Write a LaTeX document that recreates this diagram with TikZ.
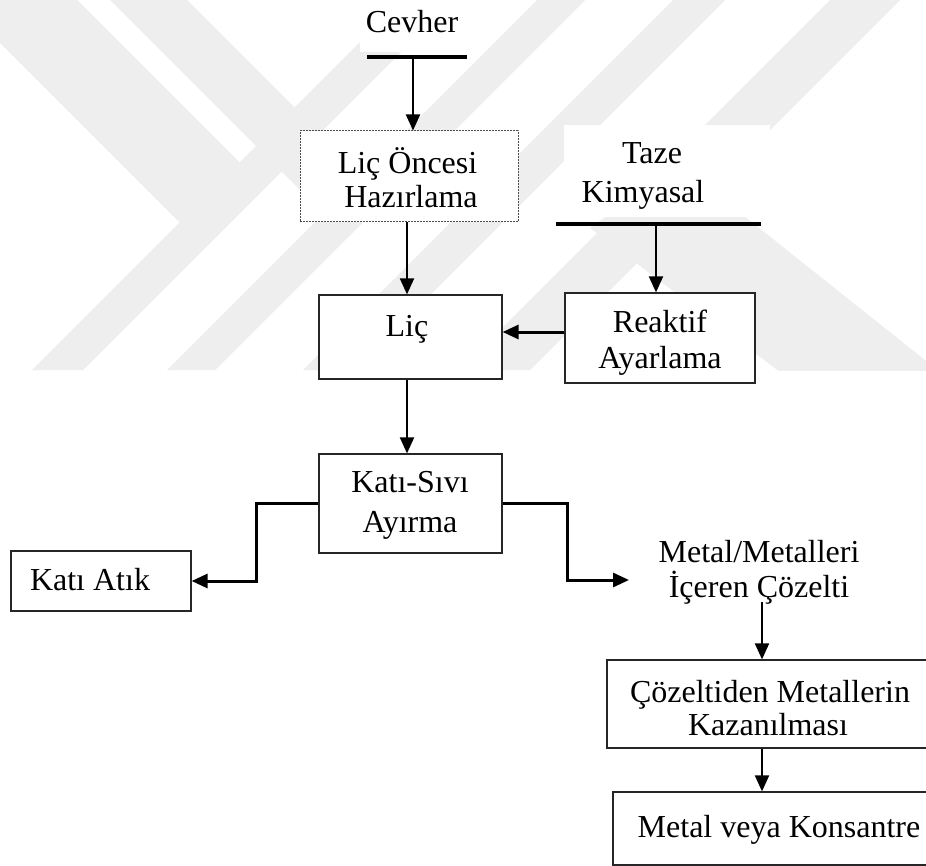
\documentclass[tikz,border=0pt]{standalone}
\usepackage{fontspec}
\setmainfont{Liberation Serif}
\usetikzlibrary{arrows.meta}
\definecolor{wm}{gray}{0.935}
\begin{document}
\begin{tikzpicture}[x=0.5pt,y=-0.5pt,
  font=\fontsize{16}{17.5}\selectfont,
  box/.style={draw=black!85, line width=0.6pt, fill=white, inner sep=0pt},
  dotbox/.style={box, draw=black!70, line width=0.5pt, dash pattern=on 0.8pt off 0.7pt},
  label/.style={inner sep=0pt, anchor=base},
  flow/.style={line width=1pt, -{Triangle[length=8pt,width=7pt]}},
  flowthick/.style={line width=1.5pt, -{Triangle[length=8pt,width=7pt]}},
  feed/.style={line width=2pt},
]
\clip (0,0) rectangle (926,866);
\fill[white] (0,0) rectangle (926,866);

% light background chevrons
\begin{scope}
  \clip (0,0) rectangle (926,370);
  \fill[wm] (-43,0) -- (77,0) -- (265,188) -- (205,248) -- cycle;
  \fill[wm] (110,0) -- (187,0) -- (386,199) -- (347.5,237.5) -- cycle;
  \fill[wm] (402,0) -- (453,0) -- (83,370) -- (32,370) -- cycle;
  \fill[wm] (537,0) -- (585,0) -- (215,370) -- (167,370) -- cycle;
  \fill[wm] (673,0) -- (725,0) -- (355,370) -- (303,370) -- cycle;
  \fill[wm] (830,0) -- (900,0) -- (530,370) -- (460,370) -- cycle;
  \fill[wm] (590,228) -- (680,165) -- (940,372) -- (780,372) -- cycle;
\end{scope}

% plates behind the feed labels
\fill[white] (564,125) rectangle (770,217);
\fill[white] (360,0) rectangle (475,52);

% ore feed
\node[label] (cevher) at (412,33) {Cevher};
\coordinate (cevL) at (367,57);
\coordinate (cevR) at (467,57);
\coordinate (cevIn) at (413,57);
\draw[feed] (cevL) -- (cevR);

% pre-leach preparation
\node[dotbox, minimum width=109pt, minimum height=45.5pt] (prep) at (409,176.5) {};
\node[label] (prep1) at (407.5,174) {Liç Öncesi};
\node[label] (prep2) at (411,208) {Hazırlama};

% leaching
\node[box, minimum width=91.5pt, minimum height=42pt] (lic) at (410.5,337) {};
\node[label] (lictext) at (407,336) {Liç};

% reagent conditioning
\node[box, minimum width=95pt, minimum height=45pt] (reak) at (660,338) {};
\node[label] (reak1) at (660,332) {Reaktif};
\node[label] (reak2) at (660,368) {Ayarlama};

% fresh chemical feed
\node[label] (taze) at (652,164) {Taze};
\node[label] (kimya) at (643,203) {Kimyasal};
\coordinate (tzL) at (556,224);
\coordinate (tzR) at (761,224);
\coordinate (tzIn) at (656,224);
\draw[feed] (tzL) -- (tzR);

% solid-liquid separation
\node[box, minimum width=91.5pt, minimum height=49.5pt] (kati) at (410.5,503.5) {};
\node[label] (kati1) at (410,492) {Katı-Sıvı};
\node[label] (kati2) at (410,532) {Ayırma};

\node[box, minimum width=90pt, minimum height=30pt] (atik) at (101,581) {};
\node[label] (atiktext) at (90,590) {Katı Atık};

\node[label] (metal) at (759,562) {Metal/Metalleri};
\node[label] (iceren) at (759,597) {İçeren Çözelti};
\coordinate (metIn) at (629,580);
\coordinate (metOut) at (762,602);

% metal recovery
\node[box, minimum width=166.5pt, minimum height=44pt] (coz) at (773.5,704) {};
\node[label] (coz1) at (770,702) {Çözeltiden Metallerin};
\node[label] (coz2) at (768,735) {Kazanılması};

\node[box, minimum width=163.5pt, minimum height=36.5pt] (kons) at (776.5,828.5) {};
\node[label] (konstext) at (779,837) {Metal veya Konsantre};

% connectors
\draw[flow] (cevIn) -- (cevIn |- prep.north);
\draw[flow] ([xshift=-1pt]prep.south) -- ([xshift=-1pt]prep.south |- lic.north);
\draw[flow] (tzIn) -- (tzIn |- reak.north);
\draw[flowthick] ([yshift=3pt]reak.west) -- ([yshift=3pt]reak.west -| lic.east);
\draw[flow] ([xshift=-1.75pt]lic.south) -- ([xshift=-1.75pt]lic.south |- kati.north);
\draw[flowthick] (kati.west) -- ++(-62,0) |- (atik.east);
\draw[flowthick] (kati.east) -- ++(65,0) |- (metIn);
\draw[flow] (metOut) -- (metOut |- coz.north);
\draw[flow] (metOut |- coz.south) -- (metOut |- kons.north);
\end{tikzpicture}
\end{document}
